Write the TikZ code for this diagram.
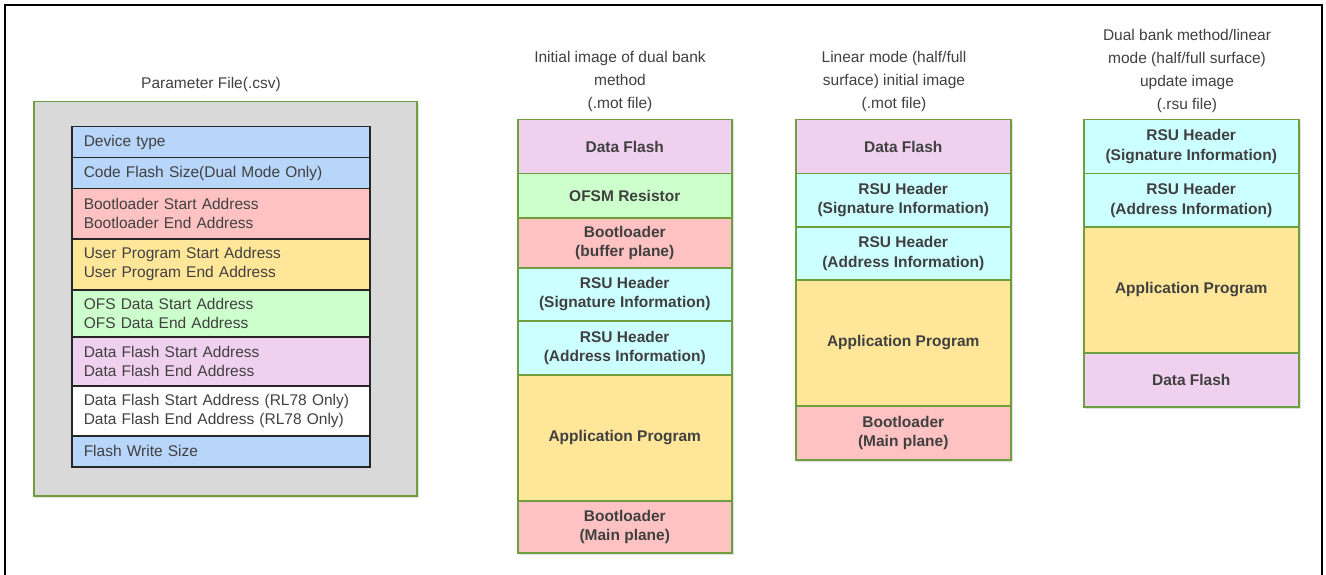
\documentclass[tikz,border=0pt]{standalone}
\usepackage{fontspec}
\setmainfont{Liberation Sans}
\usetikzlibrary{positioning}

\definecolor{txtgrey}{HTML}{404040}
\definecolor{boxgreen}{HTML}{6E9E3E}
\definecolor{panelgrey}{HTML}{D9D9D9}
\definecolor{rowblue}{HTML}{B8D5FA}
\definecolor{rowred}{HTML}{FFC2C2}
\definecolor{rowyellow}{HTML}{FFE699}
\definecolor{rowgreen}{HTML}{CCFFCC}
\definecolor{rowpink}{HTML}{F0D0EF}
\definecolor{rowcyan}{HTML}{CCFFFF}

\begin{document}
\begin{tikzpicture}[x=1pt,y=-1pt,
  title node/.style={align=center,text=txtgrey,font=\fontsize{15.5}{23}\selectfont},
  param row/.style={draw=black!85,line width=1.5pt,anchor=north west,minimum width=298pt,
    text width=274pt,inner xsep=12pt,inner ysep=0pt,align=left,text=txtgrey,
    font=\fontsize{15.5}{19}\selectfont},
  mem cell/.style={draw=boxgreen,line width=1.5pt,anchor=north west,minimum width=214pt,
    inner sep=0pt,align=center,text=txtgrey,font=\fontsize{15.5}{19.5}\selectfont\bfseries},
  shade box/.style={fill=black!12,draw=none}]

  \useasboundingbox (0,0) rectangle (1326,575);
  \draw[line width=2pt] (5,575) -- (5,5) -- (1322,5) -- (1322,575);

  % parameter file
  \node[title node] (ptitle) at (211,84) {Parameter File(.csv)};
  \fill[shade box] (35,104) rectangle (419,498);
  \node[draw=boxgreen,line width=1.5pt,fill=panelgrey,anchor=north west,
    minimum width=383pt,minimum height=394pt,inner sep=0pt] (pfile) at (33,101) {};

  \node[param row,fill=rowblue,minimum height=31pt] (dev) at (71,126) {Device type};
  \node[param row,fill=rowblue,minimum height=31pt] (cfs) at (71,157) {Code Flash Size(Dual Mode Only)};
  \node[param row,fill=rowred,minimum height=50pt] (bootaddr) at (71,188) {Bootloader Start Address\\Bootloader End Address};
  \node[param row,fill=rowyellow,minimum height=51pt] (useraddr) at (71,238) {User Program Start Address\\User Program End Address};
  \node[param row,fill=rowgreen,minimum height=47pt] (ofsaddr) at (71,289) {OFS Data Start Address\\OFS Data End Address};
  \node[param row,fill=rowpink,minimum height=49pt] (dfaddr) at (71,336) {Data Flash Start Address\\Data Flash End Address};
  \node[param row,fill=white,minimum height=50pt] (rladdr) at (71,385) {Data Flash Start Address (RL78 Only)\\Data Flash End Address (RL78 Only)};
  \node[param row,fill=rowblue,minimum height=31pt] (fws) at (71,435) {Flash Write Size};

  % dual bank initial image
  \node[title node] (dtitle) at (620,81) {Initial image of dual bank\\method\\(.mot file)};
  \fill[shade box] (519,121) rectangle (734,555);
  \node[mem cell,fill=rowpink,minimum height=54pt] (ddf) at (517,119) {Data Flash};
  \node[mem cell,fill=rowgreen,minimum height=44pt] (dofsm) at (517,173) {OFSM Resistor};
  \node[mem cell,fill=rowred,minimum height=50pt] (dbuf) at (517,217) {Bootloader\\(buffer plane)};
  \node[mem cell,fill=rowcyan,minimum height=53pt] (dsig) at (517,267) {RSU Header\\(Signature Information)};
  \node[mem cell,fill=rowcyan,minimum height=54pt] (daddr) at (517,320) {RSU Header\\(Address Information)};
  \node[mem cell,fill=rowyellow,minimum height=126pt] (dapp) at (517,374) {Application Program};
  \node[mem cell,fill=rowred,minimum height=52pt] (dmain) at (517,500) {Bootloader\\(Main plane)};

  % linear mode initial image
  \node[title node] (ltitle) at (894,81) {Linear mode (half/full\\surface) initial image\\(.mot file)};
  \fill[shade box] (797,121) rectangle (1013,462);
  \node[mem cell,fill=rowpink,minimum width=215pt,minimum height=54pt] (ldf) at (795,119) {Data Flash};
  \node[mem cell,fill=rowcyan,minimum width=215pt,minimum height=53pt] (lsig) at (795,173) {RSU Header\\(Signature Information)};
  \node[mem cell,fill=rowcyan,minimum width=215pt,minimum height=53pt] (laddr) at (795,226) {RSU Header\\(Address Information)};
  \node[mem cell,fill=rowyellow,minimum width=215pt,minimum height=126pt] (lapp) at (795,279) {Application Program};
  \node[mem cell,fill=rowred,minimum width=215pt,minimum height=54pt] (lmain) at (795,405) {Bootloader\\(Main plane)};

  % update image
  \node[title node] (utitle) at (1187,70.5) {Dual bank method/linear\\mode (half/full surface)\\update image\\(.rsu file)};
  \fill[shade box] (1085,121) rectangle (1301,409);
  \node[mem cell,fill=rowcyan,minimum width=215pt,minimum height=54pt] (usig) at (1083,119) {RSU Header\\(Signature Information)};
  \node[mem cell,fill=rowcyan,minimum width=215pt,minimum height=53pt] (uaddr) at (1083,173) {RSU Header\\(Address Information)};
  \node[mem cell,fill=rowyellow,minimum width=215pt,minimum height=126pt] (uapp) at (1083,226) {Application Program};
  \node[mem cell,fill=rowpink,minimum width=215pt,minimum height=54pt] (udf) at (1083,352) {Data Flash};
\end{tikzpicture}
\end{document}
